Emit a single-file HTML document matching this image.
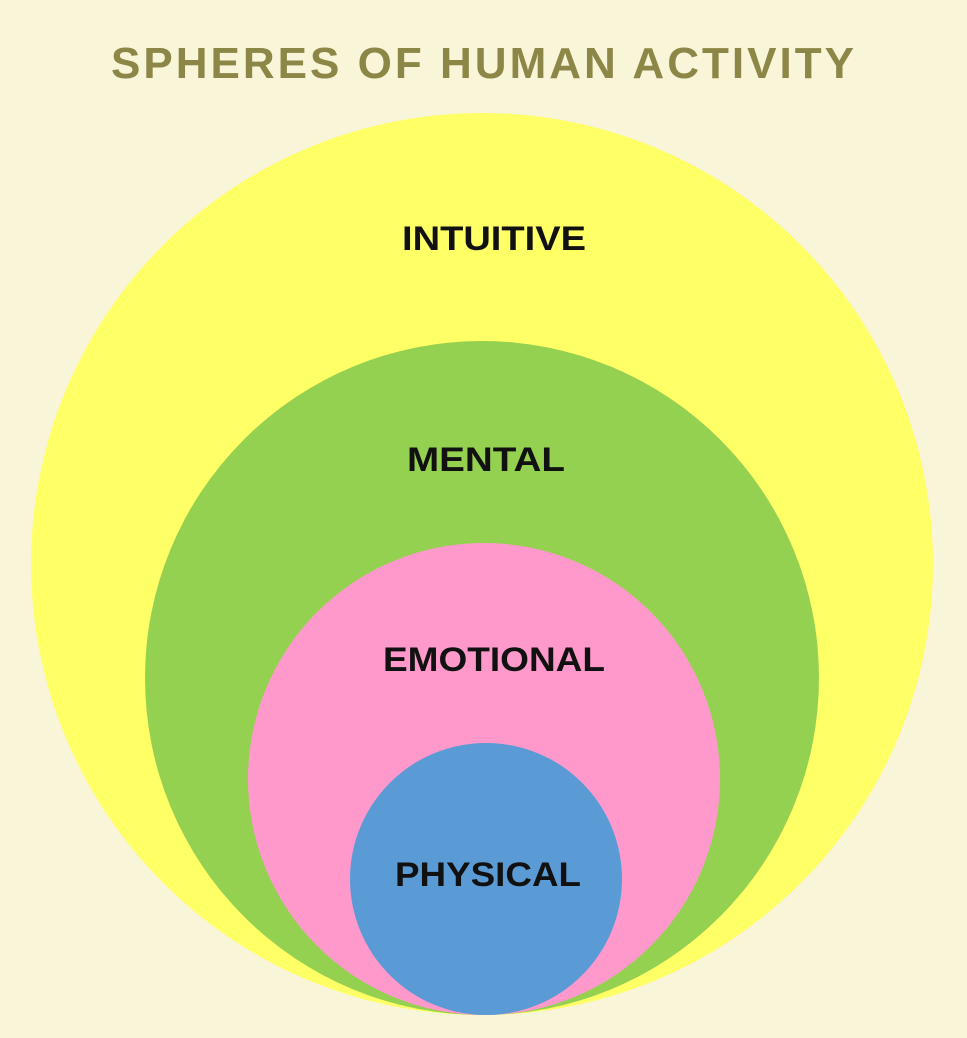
<!DOCTYPE html>
<html><head><meta charset="utf-8"><style>
html,body{margin:0;padding:0;background:#f8f5d8;}
svg{display:block}
</style></head><body>
<svg width="967" height="1038" viewBox="0 0 967 1038" xmlns="http://www.w3.org/2000/svg">
<rect width="967" height="1038" fill="#f8f5d8"/>
<text x="484" y="78" text-anchor="middle" font-family="Liberation Sans, sans-serif" font-weight="bold" font-size="44" fill="#8c8647" letter-spacing="3" textLength="746" lengthAdjust="spacingAndGlyphs">SPHERES OF HUMAN ACTIVITY</text>
<circle cx="482" cy="564" r="451" fill="#ffff66"/>
<circle cx="482" cy="678" r="337" fill="#95d150"/>
<circle cx="484" cy="779" r="236" fill="#ff99cc"/>
<circle cx="486" cy="879" r="136" fill="#5b9bd5"/>
<g font-family="Liberation Sans, sans-serif" font-weight="bold" font-size="34" fill="#111" text-anchor="middle">
<text x="494" y="250" textLength="184" lengthAdjust="spacingAndGlyphs">INTUITIVE</text>
<text x="486" y="471" textLength="158" lengthAdjust="spacingAndGlyphs">MENTAL</text>
<text x="494" y="671" textLength="222" lengthAdjust="spacingAndGlyphs">EMOTIONAL</text>
<text x="488" y="886" textLength="186" lengthAdjust="spacingAndGlyphs">PHYSICAL</text>
</g>
</svg>
</body></html>
